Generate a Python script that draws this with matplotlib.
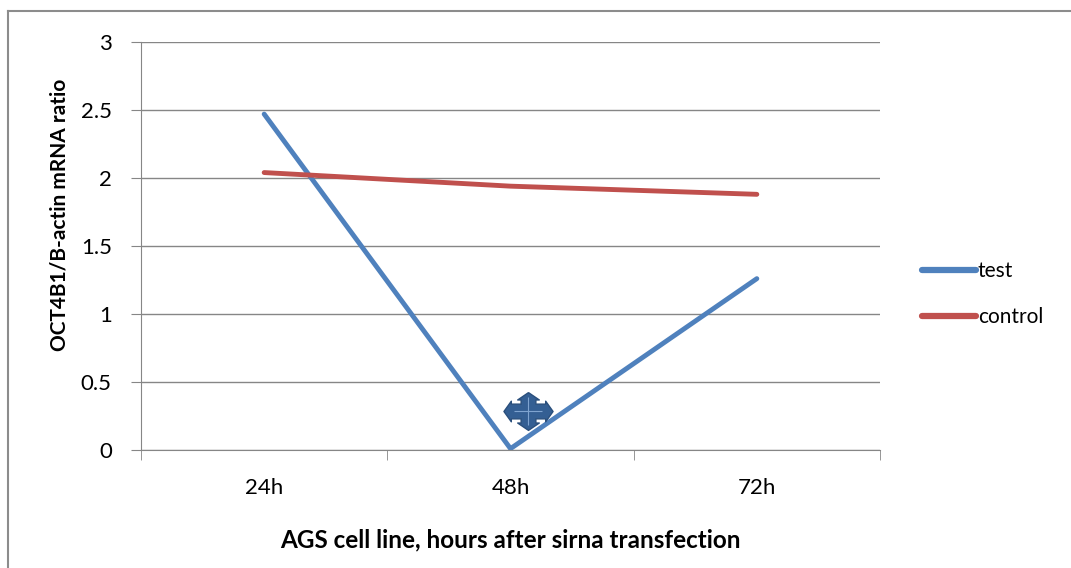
import matplotlib.pyplot as plt
from matplotlib.lines import Line2D

plt.rcParams['font.family'] = ['Lato', 'DejaVu Sans']

# data
categories = ['24h', '48h', '72h']
test = [2.47, 0.01, 1.26]
control = [2.04, 1.94, 1.88]
# stray cursor glyph near 48h
stray_x = [1.07]
stray_y = [0.29]

fig = plt.figure(figsize=(10.71, 5.68), dpi=100)
ax = fig.add_axes([141 / 1071, 1 - 450 / 568, (880 - 141) / 1071, (450 - 42) / 568])

x = range(len(categories))
ax.plot(x, test, color='#4F81BD', lw=3.5, label='test', solid_capstyle='round')
ax.plot(x, control, color='#C0504D', lw=3.5, label='control', solid_capstyle='round')

# four-way arrow shape, a bit wider than tall
w, h, s = 1.0, 0.77, 0.3
move = [(0, h), (s + 0.14, h - 0.3), (s, h - 0.3), (s, s), (w - 0.3, s),
        (w - 0.3, s + 0.12), (w, 0), (w - 0.3, -s - 0.12), (w - 0.3, -s), (s, -s),
        (s, -h + 0.3), (s + 0.14, -h + 0.3), (0, -h), (-s - 0.14, -h + 0.3),
        (-s, -h + 0.3), (-s, -s), (-w + 0.3, -s), (-w + 0.3, -s - 0.12), (-w, 0),
        (-w + 0.3, s + 0.12), (-w + 0.3, s), (-s, s), (-s, h - 0.3),
        (-s - 0.14, h - 0.3), (0, h)]
ax.scatter(stray_x, stray_y, marker=move, s=1250, color='#345F93',
           edgecolors='#2A4F7C', linewidths=1, zorder=5)
ax.scatter(stray_x, stray_y, marker='+', s=400, color='#7FA4D0', lw=0.8, zorder=6)

ax.set_xlim(-0.5, 2.5)
ax.set_ylim(0, 3)
ax.set_yticks([0, 0.5, 1, 1.5, 2, 2.5, 3])
ax.set_yticklabels(['0', '0.5', '1', '1.5', '2', '2.5', '3'])
ax.set_xticks([0, 1, 2])
ax.set_xticklabels(categories)
ax.set_xticks([-0.5, 0.5, 1.5, 2.5], minor=True)
ax.tick_params(axis='x', which='major', length=0, pad=20, labelsize=16)
ax.tick_params(axis='x', which='minor', length=7, color='#868686', direction='out')
ax.tick_params(axis='y', length=7, color='#868686', direction='out', pad=14, labelsize=16)

ax.grid(axis='y', color='#868686', lw=1)
ax.set_axisbelow(True)
for sp in ['top', 'right']:
    ax.spines[sp].set_visible(False)
ax.spines['left'].set_color('#868686')
ax.spines['bottom'].set_color('#868686')

ax.set_xlabel('AGS cell line, hours after sirna transfection', fontsize=17.5,
              fontweight='bold', labelpad=22)
ax.set_ylabel('OCT4B1/B-actin mRNA ratio', fontsize=15, fontweight='bold')
ax.yaxis.set_label_coords((70 - 141) / 739, (450 - 215) / 408)

handles = [Line2D([], [], color='#4F81BD', lw=4.5, solid_capstyle='round'),
           Line2D([], [], color='#C0504D', lw=4.5, solid_capstyle='round')]
fig.legend(handles, ['test', 'control'], loc='center left',
           bbox_to_anchor=(903 / 1071, 1 - 294 / 568), frameon=False,
           fontsize=15, handlelength=2.6, handletextpad=0.1, labelspacing=1.25)

# outer chart border
fig.add_artist(Line2D([8 / 1071, 8 / 1071], [0, 1 - 11 / 568], color='#8c8c8c',
                      lw=1.5, transform=fig.transFigure))
fig.add_artist(Line2D([8 / 1071, 1], [1 - 11 / 568, 1 - 11 / 568], color='#8c8c8c',
                      lw=1.5, transform=fig.transFigure))

plt.savefig('out.png', dpi=100)
